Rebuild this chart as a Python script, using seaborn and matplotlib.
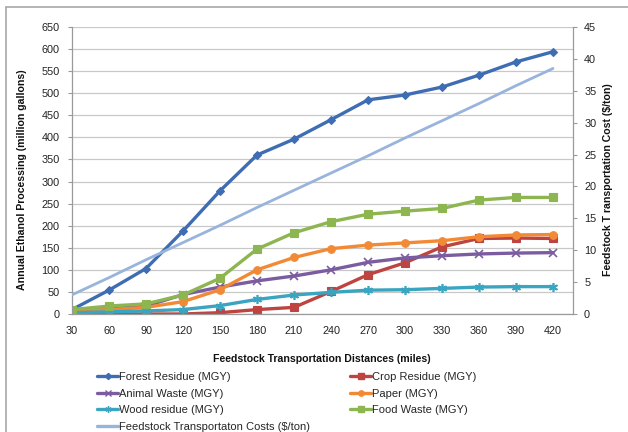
import matplotlib
matplotlib.use("Agg")
import matplotlib.pyplot as plt
import seaborn as sns
import pandas as pd
from matplotlib.lines import Line2D

distances = [30, 60, 90, 120, 150, 180, 210, 240, 270, 300, 330, 360, 390, 420]
forest_residue = [10, 54, 103, 188, 279, 360, 396, 440, 485, 496, 514, 541, 571, 594]
crop_residue = [0, 0, 0, 0, 3, 10, 15, 51, 89, 116, 152, 171, 172, 171]
animal_waste = [5, 12, 18, 44, 61, 75, 86, 100, 117, 127, 132, 136, 138, 139]
paper = [8, 10, 15, 28, 55, 100, 128, 148, 156, 161, 166, 175, 179, 180]
wood_residue = [3, 5, 7, 10, 19, 33, 43, 49, 54, 55, 58, 61, 62, 62]
food_waste = [10, 18, 23, 43, 81, 147, 184, 209, 226, 233, 239, 258, 264, 264]
transport_cost = [3.0, 5.7, 8.5, 11.2, 13.9, 16.7, 19.4, 22.1, 24.8, 27.6, 30.3, 33.0, 35.8, 38.5]

left_ticks = list(range(0, 651, 50))
right_ticks = list(range(0, 46, 5))

ASTER = (6, 2, 0)
series = [
    ("Forest Residue (MGY)", forest_residue, "#3F6DB3", "D", 4.5),
    ("Crop Residue (MGY)", crop_residue, "#BE4441", "s", 5.5),
    ("Animal Waste (MGY)", animal_waste, "#7B5CA0", "x", 5.5),
    ("Paper (MGY)", paper, "#F28A35", "o", 5.5),
    ("Wood residue (MGY)", wood_residue, "#3AA5C0", ASTER, 6.5),
    ("Food Waste (MGY)", food_waste, "#8DB550", "s", 5.5),
]
cost_label = "Feedstock Transportaton Costs ($/ton)"
cost_color = "#98B4DC"

sns.set_style("white")
plt.rcParams["font.family"] = ["Liberation Sans", "DejaVu Sans"]

W, H = 628, 432
fig = plt.figure(figsize=(W / 100, H / 100), dpi=100)
ax = fig.add_axes([72 / W, 1 - 314 / H, (573 - 72) / W, (314 - 27) / H])
ax2 = ax.twinx()

handles = {}
for name, vals, color, marker, ms in series:
    df = pd.DataFrame({"d": distances, "v": vals})
    line_marker = marker
    sns.lineplot(data=df, x="d", y="v", ax=ax, color=color, marker=line_marker,
                 markersize=ms, linewidth=2.4, markeredgecolor=color,
                 markeredgewidth=1.2 if marker in ("x", ASTER) else 0.8, legend=False)
    handles[name] = Line2D([], [], color=color, marker=marker, markersize=ms * 0.7,
                           linewidth=2.4, markeredgecolor=color)

dfc = pd.DataFrame({"d": distances, "c": transport_cost})
sns.lineplot(data=dfc, x="d", y="c", ax=ax2, color=cost_color, linewidth=2.0, legend=False)
handles[cost_label] = Line2D([], [], color=cost_color, linewidth=2.4)

xmax = 30 + 13.54 * 30
for a in (ax, ax2):
    a.set_xlim(30, xmax)
    a.set_xlabel("")
    a.set_ylabel("")
ax.set_ylim(0, 650)
ax2.set_ylim(0, 45)
ax.set_yticks(left_ticks)
ax2.set_yticks(right_ticks)
ax.set_xticks(distances)
ax.set_xticklabels([str(d) for d in distances])

ax.grid(axis="y", color="#C8C8C8", linewidth=0.9)
ax.set_axisbelow(True)
ax.grid(axis="x", visible=False)
ax2.grid(False)

spine_c = "#9A9A9A"
for a in (ax, ax2):
    a.spines["top"].set_visible(False)
    for s in ("left", "right", "bottom"):
        a.spines[s].set_color(spine_c)
        a.spines[s].set_linewidth(0.9)
ax.spines["right"].set_visible(False)
ax2.spines["left"].set_visible(False)
ax2.spines["bottom"].set_visible(False)

ax.tick_params(axis="both", which="major", labelsize=7.8, colors="#222222",
               length=3, width=0.8, color=spine_c, direction="out")
ax.tick_params(axis="y", pad=6)
ax.tick_params(axis="x", pad=6)
ax2.tick_params(axis="y", labelsize=7.8, colors="#222222", length=3, width=0.8,
                color=spine_c, direction="out", pad=5)

fig.text(322 / W, 1 - 359 / H, "Feedstock Transportation Distances (miles)",
         ha="center", va="center", fontsize=7.6, fontweight="bold", color="#111111")
fig.text(22 / W, 1 - 180 / H, "Annual Ethanol Processing (million gallons)",
         ha="center", va="center", rotation=90, fontsize=7.6, fontweight="bold", color="#111111")
fig.text(608 / W, 1 - 180 / H, "Feedstock T ransportation Cost ($/ton)",
         ha="center", va="center", rotation=90, fontsize=7.6, fontweight="bold", color="#111111")

col1 = ["Forest Residue (MGY)", "Animal Waste (MGY)", "Wood residue (MGY)", cost_label]
col2 = ["Crop Residue (MGY)", "Paper (MGY)", "Food Waste (MGY)"]
leg_kw = dict(frameon=False, fontsize=8, handlelength=1.9, handletextpad=0.1,
              labelspacing=0.6, borderpad=0, borderaxespad=0, loc="upper left")
leg1 = fig.legend([handles[n] for n in col1], col1,
                  bbox_to_anchor=(97 / W, 1 - 372 / H), **leg_kw)
leg2 = fig.legend([handles[n] for n in col2], col2,
                  bbox_to_anchor=(350 / W, 1 - 372 / H), **leg_kw)

fig.add_artist(Line2D([6 / W, 1.0], [1 - 7 / H, 1 - 7 / H], color="#A8A8A8", linewidth=1.2))
fig.add_artist(Line2D([6 / W, 6 / W], [1 - 7 / H, 0], color="#A8A8A8", linewidth=1.2))

fig.savefig("out.png", dpi=100)
